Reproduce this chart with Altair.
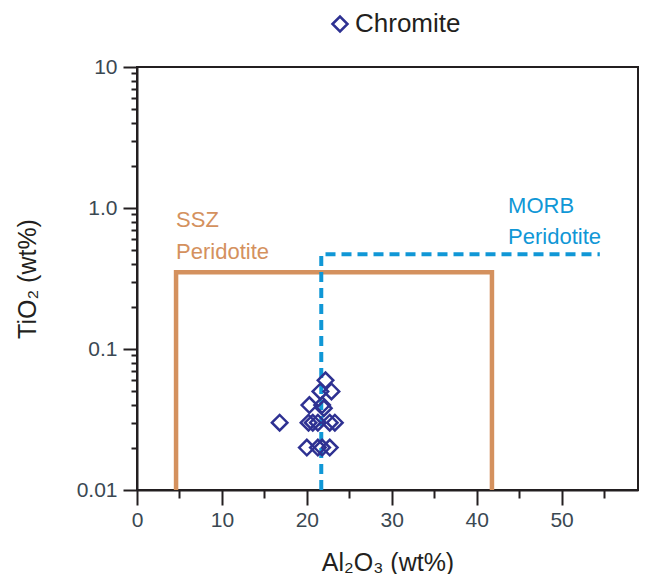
import altair as alt
import pandas as pd

# Chromite analyses (Al2O3 wt%, TiO2 wt%)
al2o3 = [16.8, 22.2, 21.6, 22.9, 20.3, 21.8, 22.0, 20.2, 20.7, 21.3, 22.7, 23.3, 20.0, 21.3, 21.8, 22.7]
tio2 = [0.03, 0.06, 0.05, 0.05, 0.04, 0.04, 0.038, 0.03, 0.03, 0.03, 0.03, 0.03, 0.02, 0.02, 0.02, 0.02]
series_name = "Chromite"

# Field boundaries
ssz_x = [4.6, 4.6, 41.8, 41.8]
ssz_y = [0.01, 0.35, 0.35, 0.01]
morb_x = [21.7, 21.7, 54.5]
morb_y = [0.01, 0.47, 0.47]

# Field labels
ssz_label = ["SSZ", "Peridotite"]
morb_label = ["MORB", "Peridotite"]

# Axis ticks
x_ticks = [0, 5, 10, 15, 20, 25, 30, 35, 40, 45, 50, 55]
y_ticks = [0.01, 0.02, 0.03, 0.04, 0.05, 0.06, 0.07, 0.08, 0.09,
           0.1, 0.2, 0.3, 0.4, 0.5, 0.6, 0.7, 0.8, 0.9,
           1, 2, 3, 4, 5, 6, 7, 8, 9, 10]

INK = "#231f20"
LABEL = "#3a4852"
ORANGE = "#d4915e"
BLUE = "#1097d6"
NAVY = "#2e3192"

pts = pd.DataFrame({"x": al2o3, "y": tio2, "series": [series_name] * len(al2o3)})
ssz = pd.DataFrame({"x": ssz_x, "y": ssz_y, "i": list(range(len(ssz_x)))})
morb = pd.DataFrame({"x": morb_x, "y": morb_y, "i": list(range(len(morb_x)))})
ssz_txt = pd.DataFrame({"x": [4.6], "y": [0.73], "label": ["\n".join(ssz_label)]})
morb_txt = pd.DataFrame({"x": [43.7], "y": [0.92], "label": ["\n".join(morb_label)]})

major_y = "abs(log(datum.value)/LN10 - round(log(datum.value)/LN10)) < 0.001"

X = alt.X(
    "x:Q",
    scale=alt.Scale(domain=[0, 59], nice=False, zero=False),
    axis=alt.Axis(
        values=x_ticks,
        labelExpr="datum.value % 10 === 0 ? datum.label : ''",
        tickSize={"condition": {"test": "datum.value % 10 === 0", "value": 15}, "value": 8},
        labelPadding=4,
        labelFlush=False,
        labelOverlap=False,
        grid=False,
        title="Al₂O₃ (wt%)",
        titleY=80,
        titleBaseline="alphabetic",
    ),
)
Y = alt.Y(
    "y:Q",
    scale=alt.Scale(type="log", domain=[0.01, 10], nice=False),
    axis=alt.Axis(
        values=y_ticks,
        labelExpr=f"({major_y}) ? (datum.value >= 10 ? '10' : datum.value >= 1 ? '1.0' : datum.value >= 0.1 ? '0.1' : '0.01') : ''",
        tickSize={"condition": {"test": major_y, "value": 14}, "value": 6},
        labelPadding=6,
        labelFlush=False,
        labelOverlap=False,
        grid=False,
        title="TiO₂ (wt%)",
        titleX=-102,
        titleBaseline="alphabetic",
    ),
)

points = alt.Chart(pts).mark_point(shape="diamond", filled=False, size=240, strokeWidth=2.5, opacity=1).encode(
    x=X,
    y=Y,
    color=alt.Color(
        "series:N",
        scale=alt.Scale(domain=[series_name], range=[NAVY]),
        legend=alt.Legend(
            title=None,
            orient="none",
            legendX=190,
            legendY=-56,
            padding=0,
            symbolType="diamond",
            symbolSize=225,
            symbolStrokeWidth=2.5,
            labelFontSize=26,
            labelColor=INK,
            labelOffset=2,
        ),
    ),
)

ssz_line = alt.Chart(ssz).mark_line(color=ORANGE, strokeWidth=4.5, strokeCap="butt").encode(
    x=X, y=Y, order="i:Q"
)
morb_line = alt.Chart(morb).mark_line(color=BLUE, strokeWidth=4, strokeDash=[10, 6]).encode(
    x=X, y=Y, order="i:Q"
)
ssz_text = alt.Chart(ssz_txt).mark_text(
    align="left", baseline="alphabetic", lineBreak="\n", fontSize=22, lineHeight=32, color=ORANGE
).encode(x=X, y=Y, text="label:N")
morb_text = alt.Chart(morb_txt).mark_text(
    align="left", baseline="alphabetic", lineBreak="\n", fontSize=22, lineHeight=31, color=BLUE
).encode(x=X, y=Y, text="label:N")

chart = (
    alt.layer(ssz_line, morb_line, ssz_text, morb_text, points)
    .properties(
        width=501,
        height=423,
        autosize=alt.AutoSizeParams(type="none"),
        padding={"left": 129, "top": 59, "right": 1, "bottom": 84},
    )
    .configure(font="Liberation Sans")
    .configure_view(stroke=INK, strokeWidth=2)
    .configure_axis(
        domainColor=INK,
        domainWidth=2,
        tickColor=INK,
        tickWidth=2,
        labelFontSize=21,
        labelColor=LABEL,
        labelFont="Liberation Sans",
        titleFontSize=25,
        titleFontWeight="normal",
        titleColor=INK,
        titleFont="Liberation Sans",
    )
    .configure_legend(labelFont="Liberation Sans")
)

chart.save("out.html", embed_options={"renderer": "svg", "actions": False})
